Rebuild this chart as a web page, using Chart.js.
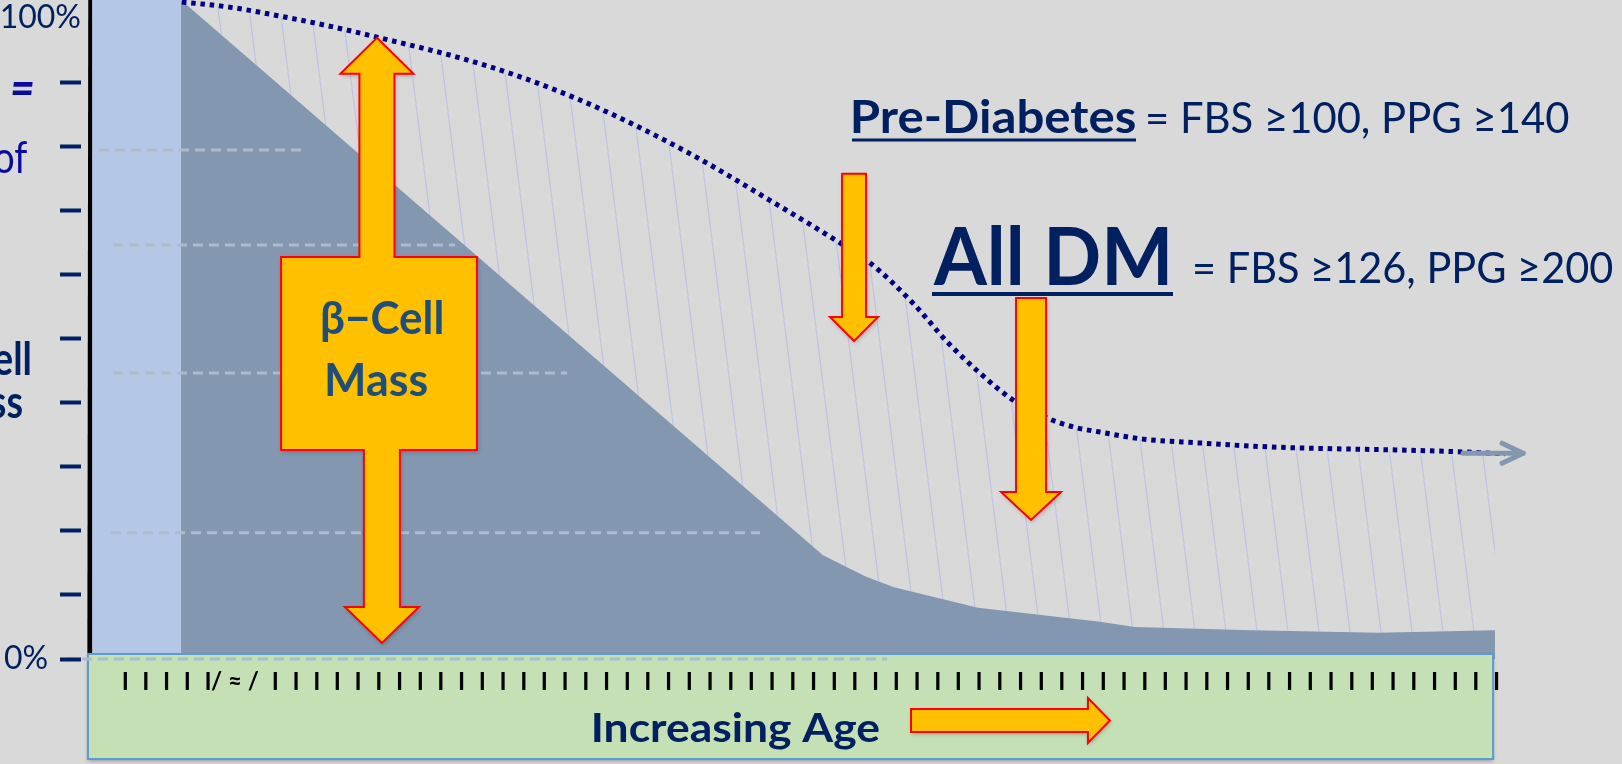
<!DOCTYPE html>
<html>
<head>
<meta charset="utf-8">
<script src="https://cdn.jsdelivr.net/npm/chart.js@4"></script>
<style>
  html, body { margin: 0; padding: 0; background: #D9D9D9; }
  canvas { display: block; }
</style>
</head>
<body>
<canvas id="c" width="1622" height="764"></canvas>
<script>
// ---- Data: x in age-tick units, y in percent of normal ----
// Dotted curve: declining beta-cell function
const declineX = [4.49, 6.96, 9.37, 11.79, 13.91, 17.78, 20.58, 23.72, 26.67, 29.61, 32.61, 36.28, 37.73,
                  39.81, 41.45, 43.04, 44.64, 46.28, 47.54, 48.84, 50.92, 53.67, 56.91, 60.10, 63.33, 66.38, 68.41];
const declineY = [102.5, 101.6, 100.2, 98.6, 97.0, 93.9, 91.1, 87.2, 82.8, 77.8, 72.1, 64.9, 61.8,
                  55.5, 49.5, 44.6, 40.4, 37.6, 36.2, 35.4, 34.3, 33.7, 33.1, 32.8, 32.6, 32.3, 32.0];
// Shaded area: beta-cell mass
const massX = [4.44, 35.46, 37.49, 38.89, 42.95, 48.84, 50.53, 56.18, 62.27, 67.92];
const massY = [102.8, 16.2, 12.9, 11.2, 8.0, 5.8, 5.0, 4.5, 4.1, 4.5];
// Early-life band
const bandX = [0.15, 4.44];
const bandY = [102.8, 102.8];
// Dashed reference levels
const refLevels = [79.4, 64.6, 44.6, 19.7, 0];
const refStartX = [0.48, 1.16, 1.16, 1.06, -1.11];
const refEndX = [10.29, 17.68, 23.09, 32.42, 38.55];
// Arrow continuing the trend
const trendArrowX = [66.38, 69.28];
const trendArrowY = [32.1, 32.1];

// Axis ticks
const yTickValues = [0, 10, 20, 30, 40, 50, 60, 70, 80, 90, 100];
const yTickLabels = ['0%', '', '', '', '', '', '', '', '', '', '100%'];
const xTicksBeforeBreak = [1.75, 2.75, 3.75, 4.75, 5.75];
const xBreakPosition = 7.05;
const xTicksAfterBreak = Array.from({ length: 60 }, (_, i) => 9 + i);
const xTickValues = [...xTicksBeforeBreak, xBreakPosition, ...xTicksAfterBreak];
const xTickLabels = [...xTicksBeforeBreak.map(() => 'I'), '/ \u2248 /', ...xTicksAfterBreak.map(() => 'I')];

// ---- Styles ----
const NAVY = '#002060';
const ORANGE = '#FFC000';
const RED = '#FF0000';

// Hatch pattern for the gap between function and mass
function makeHatch() {
  const w = 31, h = 248;
  const pc = document.createElement('canvas');
  pc.width = w; pc.height = h;
  const g = pc.getContext('2d');
  g.strokeStyle = 'rgba(140,150,255,0.38)';
  g.lineWidth = 1;
  for (const dx of [-w, 0, w]) {
    g.beginPath(); g.moveTo(dx, 0); g.lineTo(dx + w, h); g.stroke();
  }
  return g.createPattern(pc, 'repeat');
}

const toPoints = (xs, ys) => xs.map((x, i) => ({ x, y: ys[i] }));

const datasets = [];
refLevels.forEach((lvl, i) => {
  datasets.push({
    id: 'ref' + i,
    data: [{ x: refStartX[i], y: lvl }, { x: refEndX[i], y: lvl }],
    borderColor: '#B0BACA', borderWidth: 3, borderDash: [10, 6],
    fill: false, tension: 0, order: 0, clip: false
  });
});
datasets.push({
  id: 'trendArrow',
  data: toPoints(trendArrowX, trendArrowY),
  borderColor: '#8497B0', borderWidth: 5, borderCapStyle: 'round',
  fill: false, tension: 0, order: 0, clip: false
});
datasets.push({
  id: 'decline',
  data: toPoints(declineX, declineY),
  borderColor: '#000080', borderWidth: 5, borderDash: [4.5, 4.8],
  cubicInterpolationMode: 'monotone',
  backgroundColor: makeHatch(),
  order: 1, clip: false
});
datasets.push({
  id: 'mass',
  data: toPoints(massX, massY),
  borderWidth: 0, borderColor: 'rgba(0,0,0,0)',
  backgroundColor: '#8497B0', fill: 'origin', tension: 0, order: 2
});
datasets.push({
  id: 'band',
  data: toPoints(bandX, bandY),
  borderWidth: 0, borderColor: 'rgba(0,0,0,0)',
  backgroundColor: '#B4C7E7', fill: 'origin', tension: 0, order: 3
});
// hatch fills down to the mass curve
datasets.find(d => d.id === 'decline').fill = { target: datasets.findIndex(d => d.id === 'mass') };

// ---- Drawing helpers ----
function drawText(ctx, str, o) {
  ctx.save();
  ctx.font = (o.style || 'normal') + ' ' + (o.weight || 400) + ' ' + o.size + 'px Lato, "Noto Sans", sans-serif';
  ctx.textAlign = 'left';
  ctx.textBaseline = 'alphabetic';
  const m = ctx.measureText(str);
  const ink = m.actualBoundingBoxLeft + m.actualBoundingBoxRight;
  const sx = o.width ? o.width / ink : (o.sx || 1);
  const base = o.base !== undefined ? o.base : o.top + m.actualBoundingBoxAscent;
  ctx.fillStyle = o.color;
  if (o.right !== undefined) {
    ctx.translate(o.right, base); ctx.scale(sx, 1);
    ctx.fillText(str, -m.actualBoundingBoxRight, 0);
  } else {
    ctx.translate(o.left, base); ctx.scale(sx, 1);
    ctx.fillText(str, m.actualBoundingBoxLeft, 0);
  }
  ctx.restore();
}

function paintShape(ctx, build) {
  ctx.save();
  ctx.beginPath(); build(); ctx.closePath();
  ctx.shadowColor = 'rgba(0,0,0,0.25)'; ctx.shadowBlur = 4; ctx.shadowOffsetX = 1; ctx.shadowOffsetY = 2;
  ctx.fillStyle = ORANGE; ctx.fill();
  ctx.shadowColor = 'rgba(0,0,0,0)';
  ctx.lineWidth = 2; ctx.strokeStyle = RED; ctx.lineJoin = 'miter'; ctx.stroke();
  ctx.restore();
}

function downArrow(ctx, x, yTop, yTip, sh, hh, hl) {
  paintShape(ctx, () => {
    ctx.moveTo(x - sh, yTop); ctx.lineTo(x + sh, yTop); ctx.lineTo(x + sh, yTip - hl);
    ctx.lineTo(x + hh, yTip - hl); ctx.lineTo(x, yTip); ctx.lineTo(x - hh, yTip - hl);
    ctx.lineTo(x - sh, yTip - hl);
  });
}

function rightArrow(ctx, xTail, xTip, y, sh, hh, hl) {
  paintShape(ctx, () => {
    ctx.moveTo(xTail, y - sh); ctx.lineTo(xTip - hl, y - sh); ctx.lineTo(xTip - hl, y - hh);
    ctx.lineTo(xTip, y); ctx.lineTo(xTip - hl, y + hh); ctx.lineTo(xTip - hl, y + sh);
    ctx.lineTo(xTail, y + sh);
  });
}

function upDownCallout(ctx, up, down, box, u, d) {
  paintShape(ctx, () => {
    ctx.moveTo(up.x, up.y);
    ctx.lineTo(up.x + u.hh, up.y + u.hl);
    ctx.lineTo(up.x + u.sh, up.y + u.hl);
    ctx.lineTo(up.x + u.sh, box.t);
    ctx.lineTo(box.r, box.t);
    ctx.lineTo(box.r, box.b);
    ctx.lineTo(down.x + d.sh, box.b);
    ctx.lineTo(down.x + d.sh, down.y - d.hl);
    ctx.lineTo(down.x + d.hh, down.y - d.hl);
    ctx.lineTo(down.x, down.y);
    ctx.lineTo(down.x - d.hh, down.y - d.hl);
    ctx.lineTo(down.x - d.sh, down.y - d.hl);
    ctx.lineTo(down.x - d.sh, box.b);
    ctx.lineTo(box.l, box.b);
    ctx.lineTo(box.l, box.t);
    ctx.lineTo(up.x - u.sh, box.t);
    ctx.lineTo(up.x - u.sh, up.y + u.hl);
    ctx.lineTo(up.x - u.hh, up.y + u.hl);
  });
}

// ---- Plugins ----
const backdrop = {
  id: 'backdrop',
  beforeDraw(chart) {
    const { ctx, width, height } = chart;
    ctx.save(); ctx.fillStyle = '#D9D9D9'; ctx.fillRect(0, 0, width, height); ctx.restore();
  },
  beforeDatasetsDraw(chart) {
    // heavy vertical axis line, running below the zero line
    const { ctx, chartArea } = chart;
    ctx.save();
    ctx.strokeStyle = '#000'; ctx.lineWidth = 5.5;
    ctx.beginPath(); ctx.moveTo(chartArea.left + 2, 0); ctx.lineTo(chartArea.left + 1, 730); ctx.stroke();
    ctx.restore();
  },
  afterDatasetDraw(chart, args) {
    if (chart.data.datasets[args.index].id !== 'decline') return;
    // age panel holding the x-axis ticks
    const { ctx, scales: { x, y } } = chart;
    const l = x.getPixelForValue(-0.05), r = x.getPixelForValue(67.83);
    const t = y.getPixelForValue(0.78), b = y.getPixelForValue(-15.6);
    ctx.save();
    ctx.shadowColor = 'rgba(0,0,0,0.3)'; ctx.shadowBlur = 4; ctx.shadowOffsetY = 2;
    ctx.fillStyle = '#C5E0B4'; ctx.fillRect(l, t, r - l, b - t);
    ctx.shadowColor = 'rgba(0,0,0,0)';
    ctx.strokeStyle = '#5B9BD5'; ctx.lineWidth = 2; ctx.strokeRect(l, t, r - l, b - t);
    ctx.restore();
  },
  afterDatasetsDraw(chart) {
    // open arrowhead on the trend line
    const idx = chart.data.datasets.findIndex(d => d.id === 'trendArrow');
    const pts = chart.getDatasetMeta(idx).data;
    const a = pts[pts.length - 2], b = pts[pts.length - 1];
    const ang = Math.atan2(b.y - a.y, b.x - a.x);
    const { ctx } = chart;
    ctx.save();
    ctx.strokeStyle = '#8497B0'; ctx.lineWidth = 5; ctx.lineCap = 'round'; ctx.lineJoin = 'round';
    ctx.beginPath();
    ctx.moveTo(b.x - 21 * Math.cos(ang) + 10 * Math.sin(ang), b.y - 21 * Math.sin(ang) - 10 * Math.cos(ang));
    ctx.lineTo(b.x, b.y);
    ctx.lineTo(b.x - 21 * Math.cos(ang) - 10 * Math.sin(ang), b.y - 21 * Math.sin(ang) + 10 * Math.cos(ang));
    ctx.stroke();
    ctx.restore();
  },
  afterDraw(chart) {
    const { ctx, scales: { x, y } } = chart;
    const P = (vx, vy) => ({ x: x.getPixelForValue(vx), y: y.getPixelForValue(vy) });

    // beta-cell mass callout between the curves and the zero line
    const up = P(13.91, 96.9), down = P(14.15, 2.5);
    const box = { l: x.getPixelForValue(9.28), r: x.getPixelForValue(18.74), t: y.getPixelForValue(62.7), b: y.getPixelForValue(32.6) };
    upDownCallout(ctx, up, down, box, { sh: 17.5, hh: 36.5, hl: 36 }, { sh: 18, hh: 37, hl: 36 });
    drawText(ctx, '\u03B2\u2212Cell', { left: 322, base: 334, width: 120, size: 46, weight: 700, color: '#1F4E79' });
    drawText(ctx, 'Mass', { left: 327, base: 396, width: 100, size: 46, weight: 700, color: '#1F4E79' });

    // thresholds
    const pre = P(36.96, 75.7), preTip = P(36.96, 49.6);
    downArrow(ctx, pre.x, pre.y, preTip.y, 12, 24, 24);
    const dm = P(45.51, 56.3), dmTip = P(45.51, 21.7);
    downArrow(ctx, dm.x, dm.y, dmTip.y, 15, 30, 28);

    drawText(ctx, 'Pre-Diabetes', { left: 853, base: 133, width: 282, size: 46, weight: 700, color: NAVY });
    ctx.fillStyle = NAVY; ctx.fillRect(852, 138.5, 284, 3);
    drawText(ctx, '= FBS \u2265100, PPG \u2265140', { left: 1148, base: 133, width: 421, size: 42, color: NAVY });
    drawText(ctx, 'All DM', { left: 933, base: 285, width: 235, size: 80, weight: 700, color: NAVY });
    ctx.fillStyle = NAVY; ctx.fillRect(932, 292, 241, 4);
    drawText(ctx, '= FBS \u2265126, PPG \u2265200', { left: 1195, base: 283, width: 418, size: 42, color: NAVY });

    // x-axis title and direction arrow
    drawText(ctx, 'Increasing Age', { left: 594, base: 742, width: 285, size: 41, weight: 700, color: NAVY });
    const ageTail = P(39.71, -9.6), ageTip = P(49.32, -9.6);
    rightArrow(ctx, ageTail.x, ageTip.x, ageTail.y, 11.5, 22.5, 22);

    // y-axis title running off the left edge
    drawText(ctx, '=', { left: 12, top: 82, width: 21, size: 48, weight: 900, style: 'italic', color: '#0A0AA0' });
    drawText(ctx, '% of', { right: 27, base: 173, sx: 0.85, size: 44, color: '#0A0AA0' });
    drawText(ctx, '\u03B2-Cell', { right: 30, base: 375, sx: 0.82, size: 46, weight: 700, color: NAVY });
    drawText(ctx, 'Mass', { right: 22, base: 418, sx: 0.82, size: 46, weight: 700, color: NAVY });
  }
};

new Chart(document.getElementById('c'), {
  type: 'line',
  data: { datasets },
  options: {
    responsive: false,
    animation: false,
    events: [],
    layout: { padding: { left: 0, right: 84, top: 0, bottom: 0 } },
    elements: { point: { radius: 0 } },
    plugins: { legend: { display: false }, tooltip: { enabled: false }, filler: { propagate: false } },
    scales: {
      x: {
        type: 'linear', min: 0, max: 70,
        afterFit(s) { s.height = 105; },
        afterBuildTicks(s) { s.ticks = xTickValues.map(v => ({ value: v })); },
        grid: { display: false, drawTicks: false },
        border: { display: false },
        ticks: {
          autoSkip: false, maxRotation: 0, minRotation: 0, padding: 9, z: 1,
          color: '#000', font: { family: 'Lato', weight: 'bold', size: 24 },
          callback: (v, i) => xTickLabels[i]
        }
      },
      y: {
        type: 'linear', min: 0, max: 102.8,
        afterFit(s) { s.width = 89; },
        afterBuildTicks(s) { s.ticks = yTickValues.map(v => ({ value: v })); },
        grid: {
          drawOnChartArea: false, drawTicks: true, tickLength: 29, tickWidth: 4, z: 2,
          tickColor: (c) => (c.tick && c.tick.value === 100) ? 'rgba(0,0,0,0)' : NAVY,
          tickBorderDash: [21, 40]
        },
        border: { display: false },
        ticks: {
          padding: -21, color: NAVY, font: { family: 'Lato', size: 32 },
          callback: (v, i) => yTickLabels[i] + (i === 0 ? '    ' : '')
        }
      }
    }
  },
  plugins: [backdrop]
});
</script>
</body>
</html>
